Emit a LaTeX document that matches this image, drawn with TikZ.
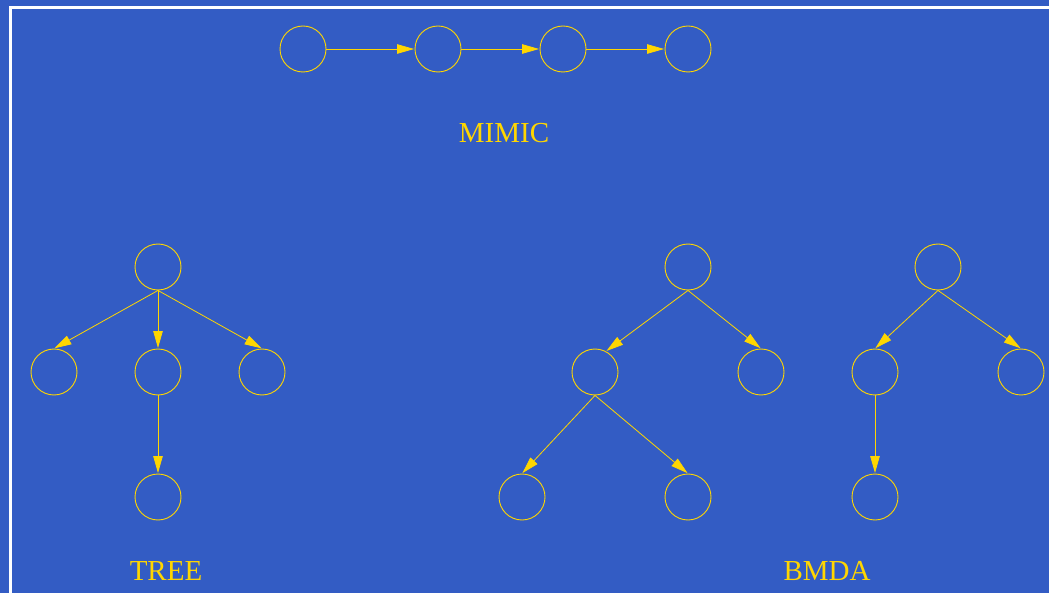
\documentclass[tikz,border=0pt]{standalone}
\usepackage{fontspec}
\setmainfont{Liberation Serif}
\usetikzlibrary{arrows.meta}
\definecolor{bgblue}{RGB}{51,92,196}
\definecolor{gold}{RGB}{255,214,0}
\tikzset{
  vert/.style={circle, draw=gold, line width=0.9pt, minimum size=46pt, inner sep=0pt},
  edge/.style={draw=gold, line width=0.8pt, -{Triangle[length=17pt,width=9.5pt]}, shorten >=0.5pt},
  caption/.style={text=gold, font=\fontsize{29}{32}\selectfont, inner sep=0pt},
  frame/.style={draw=white, line width=3pt}
}
\begin{document}
\begin{tikzpicture}[x=1pt, y=-1pt]
  % canvas
  \fill[bgblue] (0,0) rectangle (1049,593);
  \useasboundingbox (0,0) rectangle (1049,593);
  \draw[frame] (10.5,593) -- (10.5,7.5) -- (1049,7.5);

  % chain model
  \node[vert] (m1) at (303,49) {};
  \node[vert] (m2) at (438,49) {};
  \node[vert] (m3) at (563,49) {};
  \node[vert] (m4) at (688,49) {};
  \draw[edge] (m1.east) -- (m2.west);
  \draw[edge] (m2.east) -- (m3.west);
  \draw[edge] (m3.east) -- (m4.west);
  \node[caption] (mimic) at (504,133) {MIMIC};

  % tree model
  \node[vert] (t0) at (158,267) {};
  \node[vert] (t1) at (54,372) {};
  \node[vert] (t2) at (158,372) {};
  \node[vert] (t3) at (262,372) {};
  \node[vert] (t4) at (158,497) {};
  \draw[edge] (t0.south) -- (t1.north);
  \draw[edge] (t0.south) -- (t2.north);
  \draw[edge] (t0.south) -- (t3.north);
  \draw[edge] (t2.south) -- (t4.north);
  \node[caption] (tree) at (166,571) {TREE};

  % forest model, first tree
  \node[vert] (a0) at (688,267) {};
  \node[vert] (a1) at (595,372) {};
  \node[vert] (a2) at (761,372) {};
  \node[vert] (a3) at (522,497) {};
  \node[vert] (a4) at (688,497) {};
  \draw[edge] (a0.south) -- (a1.62);
  \draw[edge] (a0.south) -- (a2.north);
  \draw[edge] (a1.south) -- (a3.north);
  \draw[edge] (a1.south) -- (a4.north);

  % forest model, second tree
  \node[vert] (b0) at (938,267) {};
  \node[vert] (b1) at (875,372) {};
  \node[vert] (b2) at (1021,372) {};
  \node[vert] (b3) at (875,497) {};
  \draw[edge] (b0.south) -- (b1.north);
  \draw[edge] (b0.south) -- (b2.north);
  \draw[edge] (b1.south) -- (b3.north);
  \node[caption] (bmda) at (827,571) {BMDA};
\end{tikzpicture}
\end{document}
